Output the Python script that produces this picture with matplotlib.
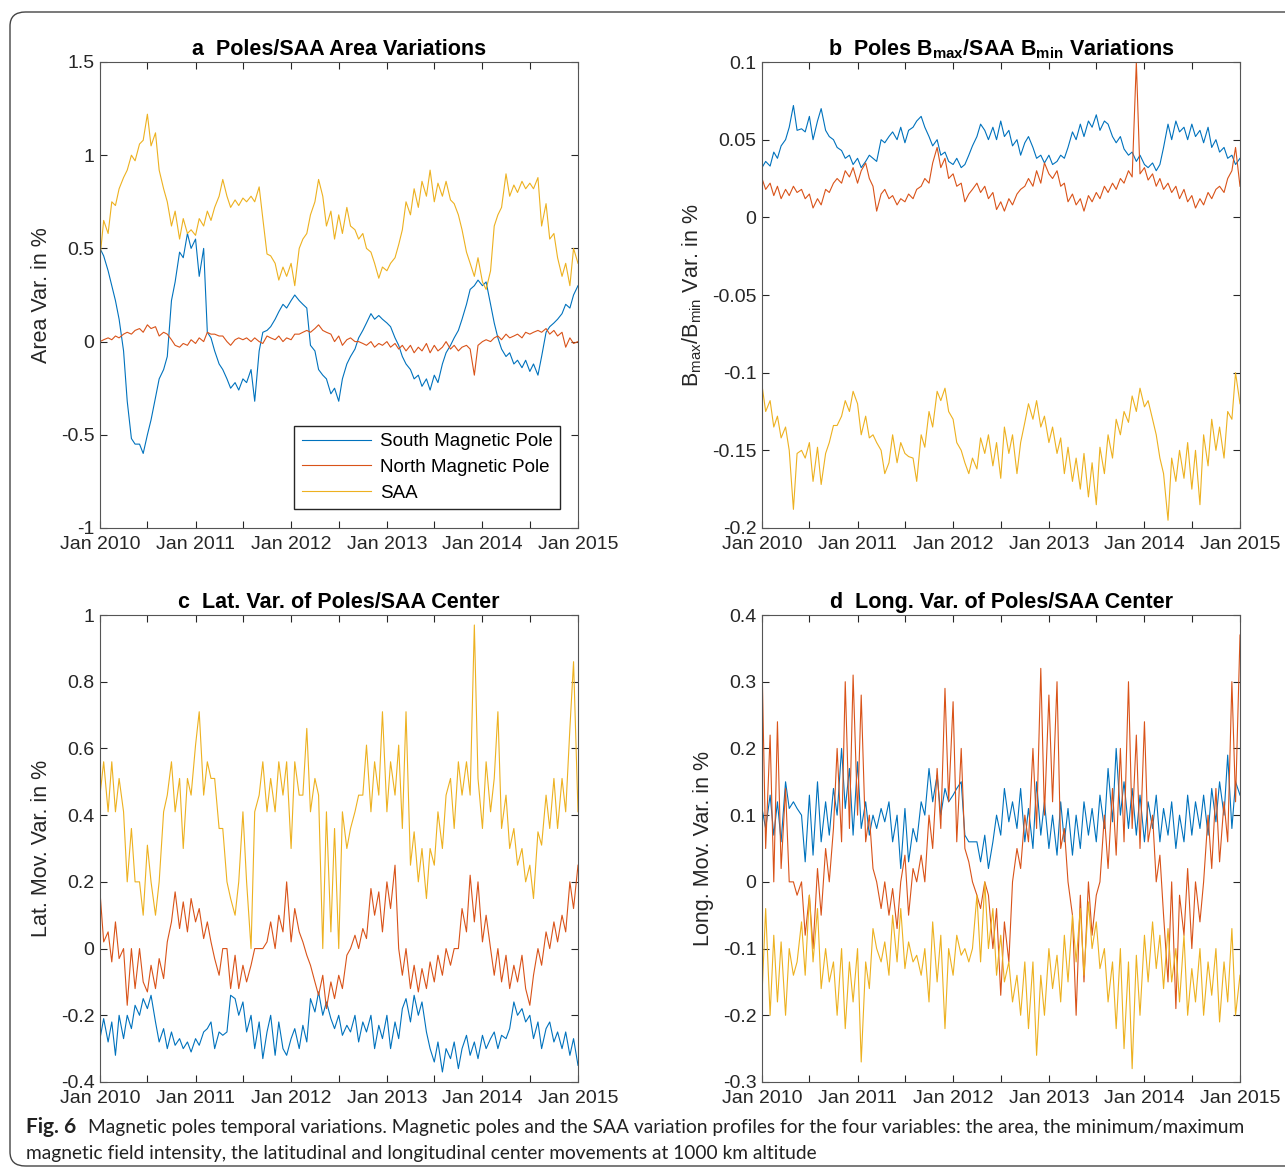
import numpy as np
import pandas as pd
import matplotlib
matplotlib.use('Agg')
import matplotlib.pyplot as plt
import matplotlib.dates as mdates
from matplotlib.ticker import FuncFormatter
from matplotlib.patches import FancyBboxPatch

plt.rcParams['font.family'] = ['Liberation Sans', 'DejaVu Sans']
plt.rcParams['mathtext.fontset'] = 'custom'
plt.rcParams['mathtext.rm'] = 'Liberation Sans'
plt.rcParams['mathtext.bf'] = 'Liberation Sans:bold'
plt.rcParams['mathtext.it'] = 'Liberation Sans:italic'
plt.rcParams['axes.unicode_minus'] = False

# half-monthly samples, Jan 2010 .. Jan 2015
dates = pd.date_range('2010-01-01', periods=121, freq='SMS')

labels = ['South Magnetic Pole', 'North Magnetic Pole', 'SAA']
colors = ['#0072BD', '#D95319', '#EDB120']

# a: area variation (%)
a_south = [0.5, 0.46, 0.38, 0.3, 0.22, 0.12, -0.05, -0.32, -0.52, -0.55, -0.55,
           -0.6, -0.5, -0.42, -0.3, -0.2, -0.15, -0.08, 0.22, 0.32, 0.48, 0.45,
           0.58, 0.5, 0.55, 0.35, 0.5, 0.05, 0.02, -0.05, -0.12, -0.15, -0.2,
           -0.25, -0.22, -0.26, -0.2, -0.22, -0.15, -0.32, -0.05, 0.05, 0.06, 0.08,
           0.12, 0.16, 0.2, 0.18, 0.22, 0.25, 0.22, 0.2, 0.18, -0.02, -0.05,
           -0.15, -0.18, -0.2, -0.28, -0.25, -0.32, -0.2, -0.12, -0.08, -0.04, 0.02,
           0.06, 0.1, 0.15, 0.12, 0.14, 0.12, 0.1, 0.08, 0.02, -0.02, -0.08,
           -0.12, -0.15, -0.2, -0.18, -0.24, -0.2, -0.26, -0.18, -0.22, -0.12, -0.06,
           -0.02, 0.02, 0.06, 0.12, 0.2, 0.28, 0.3, 0.33, 0.3, 0.32, 0.2,
           0.1, 0.02, -0.04, -0.08, -0.06, -0.12, -0.1, -0.14, -0.1, -0.16, -0.12,
           -0.18, -0.08, 0.05, 0.08, 0.1, 0.12, 0.15, 0.2, 0.18, 0.25, 0.3]
a_north = [0.0, 0.01, 0.02, 0.01, 0.03, 0.02, 0.04, 0.05, 0.04, 0.06, 0.07,
           0.05, 0.09, 0.07, 0.08, 0.03, 0.05, 0.04, 0.01, -0.02, -0.03, -0.01,
           -0.02, 0.01, -0.01, 0.02, 0.0, 0.05, 0.04, 0.04, 0.03, 0.03, 0.0,
           -0.02, 0.01, 0.02, 0.01, 0.02, 0.0, 0.02, 0.0, -0.01, 0.03, 0.02,
           0.01, 0.03, 0.0, 0.02, 0.01, 0.04, 0.04, 0.05, 0.06, 0.05, 0.07,
           0.09, 0.06, 0.05, 0.04, 0.0, 0.03, -0.02, 0.01, 0.02, 0.0, 0.0,
           -0.01, -0.02, 0.0, -0.03, -0.01, -0.02, 0.0, -0.03, -0.01, -0.04, -0.02,
           -0.05, -0.02, -0.06, -0.03, -0.05, -0.01, -0.06, -0.02, -0.05, -0.03, 0.0,
           -0.04, -0.02, -0.05, -0.03, -0.02, -0.04, -0.18, -0.02, 0.0, 0.01, 0.0,
           0.02, 0.03, 0.01, 0.04, 0.02, 0.03, 0.04, 0.02, 0.05, 0.04, 0.05,
           0.06, 0.05, 0.07, 0.04, 0.06, 0.03, 0.05, -0.03, 0.02, -0.01, 0.0]
a_saa = [0.45, 0.65, 0.58, 0.75, 0.73, 0.82, 0.88, 0.92, 1.0, 0.97, 1.06,
         1.08, 1.22, 1.05, 1.12, 0.92, 0.82, 0.75, 0.62, 0.7, 0.55, 0.66,
         0.58, 0.6, 0.57, 0.66, 0.62, 0.7, 0.65, 0.72, 0.78, 0.87, 0.78,
         0.72, 0.76, 0.73, 0.77, 0.75, 0.78, 0.75, 0.83, 0.66, 0.47, 0.46,
         0.42, 0.33, 0.4, 0.35, 0.42, 0.3, 0.5, 0.55, 0.58, 0.68, 0.75,
         0.87, 0.78, 0.62, 0.7, 0.55, 0.68, 0.58, 0.72, 0.62, 0.6, 0.55,
         0.58, 0.5, 0.48, 0.42, 0.34, 0.4, 0.38, 0.42, 0.45, 0.52, 0.6,
         0.75, 0.68, 0.82, 0.72, 0.86, 0.78, 0.92, 0.75, 0.85, 0.78, 0.86,
         0.76, 0.74, 0.68, 0.6, 0.48, 0.42, 0.35, 0.45, 0.32, 0.28, 0.38,
         0.62, 0.68, 0.72, 0.9, 0.78, 0.84, 0.8, 0.86, 0.82, 0.85, 0.82,
         0.88, 0.62, 0.74, 0.55, 0.58, 0.45, 0.35, 0.42, 0.3, 0.5, 0.42]

# b: Bmax / Bmin variation (%)
b_south = [0.032, 0.036, 0.033, 0.042, 0.038, 0.046, 0.05, 0.058, 0.072, 0.056, 0.057,
           0.055, 0.065, 0.05, 0.062, 0.07, 0.056, 0.052, 0.05, 0.045, 0.043, 0.038,
           0.04, 0.034, 0.038, 0.032, 0.036, 0.04, 0.038, 0.036, 0.05, 0.048, 0.052,
           0.055, 0.05, 0.058, 0.048, 0.056, 0.058, 0.062, 0.065, 0.058, 0.052, 0.046,
           0.05, 0.04, 0.042, 0.036, 0.034, 0.038, 0.032, 0.034, 0.04, 0.046, 0.052,
           0.06, 0.056, 0.05, 0.058, 0.05, 0.062, 0.052, 0.056, 0.046, 0.05, 0.04,
           0.048, 0.052, 0.045, 0.038, 0.04, 0.035, 0.04, 0.034, 0.036, 0.04, 0.038,
           0.045, 0.055, 0.05, 0.06, 0.052, 0.062, 0.058, 0.066, 0.056, 0.062, 0.06,
           0.052, 0.048, 0.052, 0.044, 0.04, 0.042, 0.036, 0.04, 0.034, 0.032, 0.035,
           0.03, 0.034, 0.045, 0.06, 0.05, 0.062, 0.055, 0.058, 0.05, 0.06, 0.052,
           0.056, 0.048, 0.058, 0.045, 0.05, 0.042, 0.045, 0.038, 0.04, 0.034, 0.038]
b_north = [0.025, 0.018, 0.022, 0.014, 0.02, 0.012, 0.018, 0.014, 0.02, 0.016, 0.018,
           0.012, 0.015, 0.006, 0.012, 0.008, 0.018, 0.016, 0.022, 0.025, 0.022, 0.03,
           0.026, 0.032, 0.022, 0.03, 0.035, 0.025, 0.02, 0.004, 0.015, 0.018, 0.012,
           0.014, 0.008, 0.012, 0.01, 0.015, 0.012, 0.018, 0.02, 0.025, 0.022, 0.035,
           0.045, 0.032, 0.038, 0.025, 0.028, 0.02, 0.022, 0.01, 0.015, 0.018, 0.022,
           0.016, 0.02, 0.012, 0.016, 0.005, 0.01, 0.004, 0.012, 0.008, 0.015, 0.018,
           0.02, 0.025, 0.02, 0.03, 0.022, 0.035, 0.028, 0.025, 0.03, 0.02, 0.022,
           0.01, 0.015, 0.008, 0.012, 0.004, 0.014, 0.01, 0.016, 0.012, 0.02, 0.016,
           0.022, 0.018, 0.025, 0.022, 0.03, 0.026, 0.1, 0.028, 0.032, 0.024, 0.028,
           0.02, 0.025, 0.018, 0.022, 0.016, 0.02, 0.012, 0.018, 0.01, 0.014, 0.006,
           0.012, 0.008, 0.016, 0.012, 0.018, 0.02, 0.016, 0.025, 0.03, 0.045, 0.02]
b_saa = [-0.108, -0.125, -0.118, -0.135, -0.128, -0.142, -0.135, -0.15, -0.188, -0.152, -0.15,
         -0.155, -0.145, -0.17, -0.148, -0.172, -0.152, -0.145, -0.134, -0.134, -0.128, -0.118,
         -0.125, -0.112, -0.12, -0.14, -0.128, -0.142, -0.14, -0.145, -0.15, -0.165, -0.158,
         -0.14, -0.158, -0.145, -0.152, -0.154, -0.155, -0.17, -0.14, -0.148, -0.125, -0.135,
         -0.112, -0.118, -0.11, -0.125, -0.13, -0.145, -0.15, -0.158, -0.165, -0.155, -0.162,
         -0.142, -0.152, -0.14, -0.16, -0.145, -0.168, -0.135, -0.152, -0.14, -0.165, -0.145,
         -0.132, -0.12, -0.13, -0.118, -0.135, -0.128, -0.145, -0.135, -0.152, -0.142, -0.165,
         -0.148, -0.17, -0.155, -0.175, -0.152, -0.18, -0.158, -0.185, -0.148, -0.165, -0.14,
         -0.155, -0.13, -0.14, -0.125, -0.132, -0.115, -0.125, -0.11, -0.122, -0.118, -0.13,
         -0.14, -0.155, -0.165, -0.195, -0.155, -0.17, -0.15, -0.168, -0.145, -0.175, -0.15,
         -0.185, -0.14, -0.16, -0.13, -0.15, -0.135, -0.155, -0.125, -0.13, -0.1, -0.12]

# c: latitudinal movement of center (%)
c_south = [-0.27, -0.21, -0.28, -0.22, -0.32, -0.2, -0.27, -0.2, -0.24, -0.17, -0.2,
           -0.15, -0.18, -0.14, -0.22, -0.28, -0.24, -0.3, -0.25, -0.29, -0.27, -0.3,
           -0.28, -0.31, -0.27, -0.29, -0.25, -0.24, -0.22, -0.3, -0.25, -0.26, -0.25,
           -0.14, -0.15, -0.2, -0.16, -0.25, -0.2, -0.3, -0.22, -0.33, -0.25, -0.2,
           -0.32, -0.22, -0.3, -0.32, -0.27, -0.24, -0.3, -0.23, -0.28, -0.15, -0.19,
           -0.13, -0.2, -0.16, -0.21, -0.24, -0.2, -0.26, -0.23, -0.25, -0.2, -0.28,
           -0.22, -0.25, -0.2, -0.3, -0.23, -0.27, -0.2, -0.3, -0.22, -0.27, -0.18,
           -0.15, -0.22, -0.14, -0.2, -0.16, -0.25, -0.3, -0.34, -0.28, -0.37, -0.3,
           -0.33, -0.28, -0.36, -0.3, -0.26, -0.32, -0.28, -0.33, -0.26, -0.3, -0.27,
           -0.25, -0.3, -0.26, -0.27, -0.24, -0.16, -0.2, -0.18, -0.22, -0.2, -0.27,
           -0.22, -0.3, -0.24, -0.22, -0.28, -0.25, -0.3, -0.25, -0.32, -0.27, -0.35]
c_north = [0.17, 0.02, 0.05, -0.04, 0.08, -0.03, 0.0, -0.17, 0.0, -0.12, 0.0,
           -0.1, -0.13, -0.05, -0.12, -0.03, -0.09, 0.02, 0.08, 0.17, 0.06, 0.14,
           0.05, 0.15, 0.08, 0.12, 0.03, 0.08, 0.02, -0.03, -0.08, 0.0, 0.0,
           -0.12, -0.02, -0.12, -0.05, -0.1, -0.05, 0.0, 0.0, 0.0, 0.02, 0.08,
           0.0, 0.1, 0.05, 0.2, 0.02, 0.12, 0.05, 0.02, -0.02, -0.05, -0.1,
           -0.14, -0.08, -0.18, -0.1, -0.15, -0.08, -0.12, -0.02, 0.0, 0.04, 0.0,
           0.06, 0.03, 0.18, 0.1, 0.17, 0.05, 0.2, 0.12, 0.25, 0.0, -0.08,
           0.0, -0.12, -0.05, -0.13, -0.06, -0.12, -0.04, -0.1, -0.02, -0.08, 0.0,
           -0.05, 0.0, 0.0, 0.12, 0.05, 0.22, 0.08, 0.2, 0.02, 0.1, 0.0,
           -0.08, 0.0, -0.1, -0.02, -0.12, -0.05, -0.1, -0.02, -0.12, -0.17, -0.08,
           0.0, -0.05, 0.05, 0.0, 0.08, 0.02, 0.1, 0.05, 0.2, 0.12, 0.25]
c_saa = [0.46, 0.56, 0.41, 0.56, 0.41, 0.51, 0.41, 0.2, 0.36, 0.2, 0.2,
         0.1, 0.31, 0.2, 0.1, 0.2, 0.41, 0.46, 0.56, 0.41, 0.51, 0.3,
         0.51, 0.46, 0.61, 0.71, 0.46, 0.56, 0.51, 0.51, 0.36, 0.36, 0.2,
         0.15, 0.1, 0.2, 0.41, 0.2, 0.0, 0.41, 0.46, 0.56, 0.41, 0.51,
         0.41, 0.56, 0.46, 0.56, 0.3, 0.56, 0.46, 0.46, 0.66, 0.41, 0.51,
         0.46, 0.0, 0.41, 0.05, 0.36, 0.0, 0.41, 0.3, 0.36, 0.41, 0.46,
         0.46, 0.61, 0.41, 0.56, 0.46, 0.71, 0.41, 0.56, 0.46, 0.61, 0.36,
         0.71, 0.25, 0.35, 0.2, 0.3, 0.15, 0.3, 0.25, 0.41, 0.3, 0.46,
         0.51, 0.36, 0.56, 0.46, 0.56, 0.46, 0.97, 0.51, 0.36, 0.56, 0.41,
         0.51, 0.71, 0.36, 0.46, 0.3, 0.36, 0.25, 0.3, 0.2, 0.25, 0.15,
         0.35, 0.31, 0.46, 0.36, 0.51, 0.36, 0.51, 0.41, 0.66, 0.86, 0.41]

# d: longitudinal movement of center (%)
d_south = [0.11, 0.08, 0.13, 0.07, 0.12, 0.06, 0.15, 0.11, 0.12, 0.11, 0.1,
           0.03, 0.13, 0.04, 0.15, 0.06, 0.12, 0.07, 0.14, 0.1, 0.2, 0.11,
           0.17, 0.07, 0.18, 0.08, 0.12, 0.07, 0.1, 0.08, 0.11, 0.09, 0.12,
           0.06, 0.1, 0.02, 0.11, 0.03, 0.08, 0.06, 0.12, 0.1, 0.17, 0.12,
           0.16, 0.1, 0.14, 0.12, 0.13, 0.14, 0.15, 0.07, 0.06, 0.06, 0.06,
           0.03, 0.07, 0.02, 0.06, 0.1, 0.07, 0.14, 0.09, 0.12, 0.08, 0.14,
           0.06, 0.11, 0.05, 0.15, 0.07, 0.12, 0.05, 0.1, 0.04, 0.12, 0.06,
           0.11, 0.04, 0.1, 0.05, 0.12, 0.07, 0.11, 0.06, 0.13, 0.08, 0.17,
           0.09, 0.2, 0.1, 0.15, 0.08, 0.14, 0.07, 0.13, 0.06, 0.12, 0.08,
           0.13, 0.06, 0.11, 0.07, 0.12, 0.05, 0.1, 0.06, 0.13, 0.07, 0.12,
           0.08, 0.13, 0.07, 0.14, 0.09, 0.15, 0.1, 0.19, 0.08, 0.15, 0.13]
d_north = [0.33, 0.05, 0.22, 0.0, 0.24, 0.02, 0.14, 0.0, 0.0, -0.02, 0.0,
           -0.08, -0.02, -0.1, 0.02, -0.05, 0.05, 0.0, 0.08, 0.2, 0.06, 0.3,
           0.08, 0.31, 0.1, 0.28, 0.06, 0.1, 0.02, 0.0, -0.04, 0.0, -0.05,
           -0.01, -0.07, 0.0, 0.04, -0.05, 0.02, 0.0, 0.04, 0.0, 0.1, 0.05,
           0.17, 0.08, 0.29, 0.12, 0.27, 0.06, 0.2, 0.05, 0.03, 0.0, -0.02,
           -0.04, 0.0, -0.02, -0.1, -0.04, -0.17, -0.06, -0.12, 0.0, 0.05, 0.02,
           0.1, 0.06, 0.2, 0.08, 0.32, 0.1, 0.28, 0.12, 0.3, 0.05, 0.08,
           0.0, -0.05, -0.2, -0.02, -0.15, 0.0, -0.08, -0.02, 0.0, 0.1, 0.02,
           0.14, 0.04, 0.2, 0.06, 0.3, 0.08, 0.22, 0.05, 0.24, 0.06, 0.1,
           0.0, 0.04, -0.05, -0.15, 0.0, -0.19, -0.02, -0.08, 0.02, -0.1, 0.0,
           -0.06, 0.0, 0.1, 0.02, 0.14, 0.03, 0.12, 0.06, 0.3, 0.12, 0.37]
d_saa = [-0.17, -0.04, -0.2, -0.08, -0.18, -0.09, -0.2, -0.1, -0.14, -0.12, -0.06,
         -0.14, -0.02, -0.12, -0.04, -0.16, -0.1, -0.15, -0.12, -0.2, -0.1, -0.22,
         -0.12, -0.18, -0.1, -0.27, -0.12, -0.16, -0.07, -0.1, -0.12, -0.09, -0.14,
         -0.05, -0.12, -0.04, -0.13, -0.09, -0.12, -0.11, -0.14, -0.1, -0.18, -0.06,
         -0.15, -0.08, -0.22, -0.1, -0.14, -0.08, -0.11, -0.1, -0.12, -0.1, -0.02,
         -0.12, 0.0, -0.1, -0.04, -0.14, -0.08, -0.15, -0.12, -0.18, -0.14, -0.2,
         -0.12, -0.22, -0.12, -0.26, -0.14, -0.2, -0.1, -0.16, -0.11, -0.18, -0.08,
         -0.15, -0.05, -0.12, -0.04, -0.14, -0.03, -0.1, -0.06, -0.13, -0.1, -0.18,
         -0.12, -0.22, -0.1, -0.25, -0.12, -0.28, -0.11, -0.2, -0.08, -0.15, -0.06,
         -0.13, -0.08, -0.16, -0.07, -0.15, -0.1, -0.18, -0.08, -0.2, -0.13, -0.18,
         -0.1, -0.2, -0.12, -0.17, -0.1, -0.21, -0.12, -0.18, -0.07, -0.2, -0.14]

panels = [
    ('a  Poles/SAA Area Variations', 'Area Var. in %',
     (a_south, a_north, a_saa), (-1, 1.5), np.arange(-1, 1.51, 0.5)),
    (r'b  Poles B$_\mathbf{max}$/SAA B$_\mathbf{min}$ Variations',
     r'B$_\mathregular{max}$/B$_\mathregular{min}$ Var. in %',
     (b_south, b_north, b_saa), (-0.2, 0.1), np.arange(-0.2, 0.101, 0.05)),
    ('c  Lat. Var. of Poles/SAA Center', 'Lat. Mov. Var. in %',
     (c_south, c_north, c_saa), (-0.4, 1.0), np.arange(-0.4, 1.01, 0.2)),
    ('d  Long. Var. of Poles/SAA Center', 'Long. Mov. Var. in %',
     (d_south, d_north, d_saa), (-0.3, 0.4), np.arange(-0.3, 0.401, 0.1)),
]

W, H = 1285, 1172
fig = plt.figure(figsize=(W / 100, H / 100), dpi=100)

# axes boxes in pixels: left, top, right, bottom
boxes = [(100, 62, 578, 528), (762, 62, 1240, 528),
         (100, 615, 578, 1082), (762, 615, 1240, 1082)]

def jan_only(x, pos):
    d = mdates.num2date(x)
    return d.strftime('Jan %Y') if d.month == 1 else ''

def ytick_fmt(v, pos):
    return '%g' % (round(v, 3) + 0.0) if abs(v) > 1e-9 else '0'

for (title, ylabel, series, ylim, yticks), (l, t, r, b) in zip(panels, boxes):
    ax = fig.add_axes([l / W, 1 - b / H, (r - l) / W, (b - t) / H])
    for y, c, lab in zip(series, colors, labels):
        assert len(y) == len(dates), (lab, len(y))
        ax.plot(dates, y, color=c, lw=0.8, label=lab)
    ax.set_xlim(pd.Timestamp('2010-01-01'), pd.Timestamp('2015-01-01'))
    ax.set_ylim(*ylim)
    ax.set_yticks(yticks)
    ax.yaxis.set_major_formatter(FuncFormatter(ytick_fmt))
    ax.xaxis.set_major_locator(mdates.MonthLocator(bymonth=[1, 7]))
    ax.xaxis.set_major_formatter(FuncFormatter(jan_only))
    ax.tick_params(direction='in', top=True, right=True, length=5, width=0.8,
                   color='#262626', labelcolor='#262626', labelsize=14)
    ax.tick_params(axis='x', pad=6)
    ax.tick_params(axis='y', pad=4)
    for s in ax.spines.values():
        s.set_color('#555555')
        s.set_linewidth(0.8)
    ax.set_ylabel(ylabel, fontsize=15.5, color='#262626', labelpad=6)
    ax.set_title(title, fontsize=15.5, fontweight='bold', pad=5)
    if title.startswith('a'):
        ax.legend(loc='lower right', bbox_to_anchor=(1 - 18 / 478, 19 / 466),
                  borderaxespad=0, fancybox=False, edgecolor='#262626',
                  framealpha=1, fontsize=13.5, handlelength=3.7,
                  handletextpad=0.45, labelspacing=0.45, borderpad=0.4)

# rounded frame around the figure
frame = FancyBboxPatch((10 / W, 6 / H), 1.2, 1 - 18 / H,
                       boxstyle='round,pad=0,rounding_size=0.012',
                       transform=fig.transFigure, fill=False,
                       ec='#444444', lw=1.0)
fig.patches.append(frame)

cap_font = ['Lato', 'DejaVu Sans']
fig.text(26 / W, 1 - 1127 / H, 'Fig. 6', fontsize=15, fontweight='bold',
         family=cap_font, va='center', color='#222222')
fig.text(88 / W, 1 - 1127 / H,
         'Magnetic poles temporal variations. Magnetic poles and the SAA variation '
         'profiles for the four variables: the area, the minimum/maximum',
         fontsize=13.8, family=cap_font, va='center', color='#222222')
fig.text(26 / W, 1 - 1154 / H,
         'magnetic field intensity, the latitudinal and longitudinal center '
         'movements at 1000 km altitude',
         fontsize=13.8, family=cap_font, va='center', color='#222222')

fig.savefig('out.png', dpi=100)
